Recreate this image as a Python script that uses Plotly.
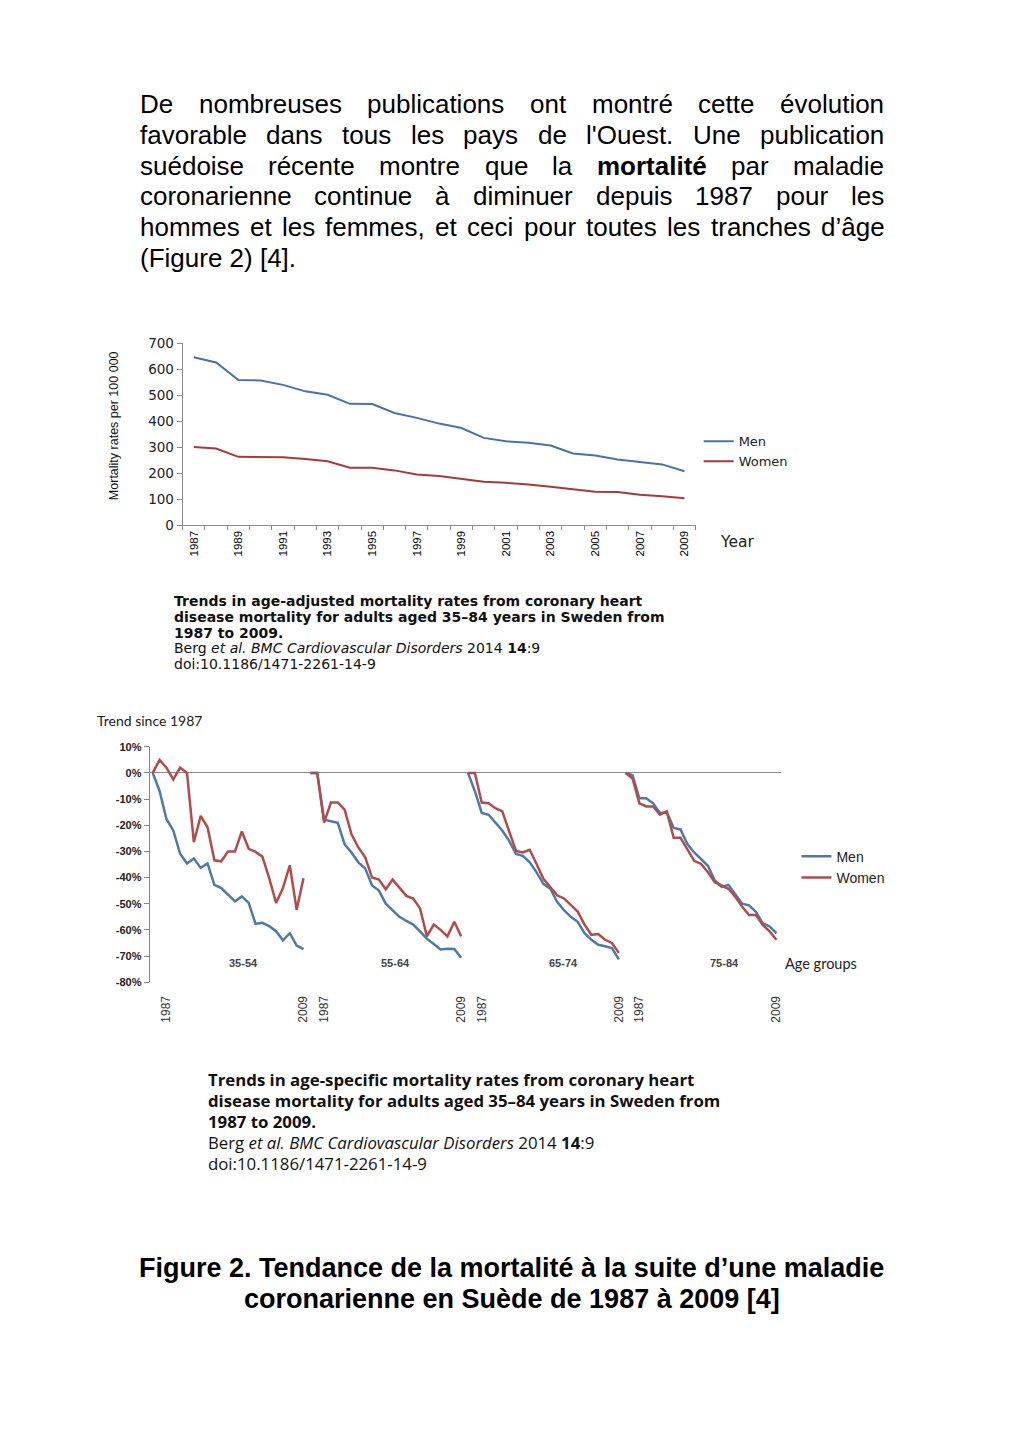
import plotly.graph_objects as go

W, H = 1024, 1454

# ---------------- data ----------------
years = list(range(1987, 2010))
men_rate = [646, 626, 559, 557, 540, 515, 502, 467, 466, 432, 413, 391, 374,
            336, 323, 317, 307, 276, 268, 253, 243, 234, 208]
women_rate = [301, 295, 263, 263, 262, 255, 246, 221, 221, 211, 195, 189, 179,
              167, 163, 157, 148, 138, 129, 128, 117, 112, 104]

age_groups = ["35-54", "55-64", "65-74", "75-84"]
men_35_54 = [0, -6.9, -17.6, -22, -30.9, -34.6, -32.7, -36.3, -34.6, -42.8, -44, -46.6,
             -49.1, -47.2, -49.7, -57.7, -57.3, -58.6, -60.5, -64, -61.3, -66, -67.4]
women_35_54 = [0, 5, 2, -2.5, 2, 0, -26.5, -16.4, -20.8, -33.4, -33.8, -30, -30, -22.4,
               -29, -30.2, -32, -40.3, -49.7, -44, -35.3, -52.3, -40.3]
men_55_64 = [0, 0, -17.9, -18.5, -19.1, -27.3, -30.4, -34.2, -36.5, -43, -45, -50, -52.5,
             -55, -56.6, -58, -60.6, -63.4, -65.4, -67.5, -67.2, -67.3, -70.7]
women_55_64 = [0, 0, -19, -11.3, -11.3, -14, -23.5, -28.5, -32.3, -40, -40.8, -44.5, -40.8,
               -44, -47, -48, -51.8, -62.5, -58, -60, -62.5, -56.9, -62.5]
men_65_74 = [0, -7, -15.3, -16, -19, -22, -26, -31, -31.7, -34.2, -38, -42.4, -44.3, -49.3,
             -52.5, -55, -56.9, -61.3, -63.8, -65.7, -66.3, -67, -71.3]
women_65_74 = [0, 0, -11.3, -11.6, -13.5, -14.7, -22.3, -29.8, -30.4, -29.4, -34.8, -40.5,
               -43.6, -46.8, -48, -50.6, -53, -58, -61.9, -61.6, -63.8, -65, -68.8]
men_75_84 = [0, -0.9, -9.7, -9.7, -11.6, -15.3, -15.1, -21, -21.6, -27.2, -30.4, -32.9,
             -35.5, -41.1, -43.6, -42.8, -46.2, -50, -50.6, -53.1, -57.5, -58.7, -61.3]
women_75_84 = [0, -2.1, -11.6, -12.8, -12.8, -16, -14.7, -24.8, -24.8, -29.2, -33.6, -34.8,
               -38, -41.8, -43, -44.3, -47.4, -51.2, -54.3, -54.3, -58.1, -60.6, -63.8]

trend_ticks = [10, 0, -10, -20, -30, -40, -50, -60, -70, -80]
trend_tick_text = ["10%", "0%", "-10%", "-20%", "-30%", "-40%", "-50%", "-60%", "-70%", "-80%"]

# ---------------- helpers ----------------
def px(x):
    return x / W


def py(y):
    return 1 - y / H


annotations = []


def ann(text, x, y, size, family="Liberation Sans", color="black", xanchor="left",
        yanchor="middle", angle=0, align="left"):
    annotations.append(dict(text=text, x=px(x), y=py(y), xref="paper", yref="paper",
                            showarrow=False, xanchor=xanchor, yanchor=yanchor,
                            textangle=angle, align=align, borderpad=0,
                            font=dict(size=size, family=family, color=color)))


# Arial / Liberation Sans advance widths (per 1000 em)
AR = {' ': 278, "'": 191, '\u2019': 222, '(': 333, ')': 333, ',': 278, '.': 278,
      '[': 278, ']': 278, '-': 333, ':': 278, '/': 278}
for c in '0123456789':
    AR[c] = 556
AR.update(dict(A=667, B=667, C=722, D=722, E=667, F=611, G=778, H=722, I=278, J=500, K=667,
               L=556, M=833, N=722, O=778, P=667, Q=778, R=722, S=667, T=611, U=722, V=667,
               W=944, X=667, Y=667, Z=611))
AR.update(dict(a=556, b=556, c=500, d=556, e=556, f=278, g=556, h=556, i=222, j=222, k=500,
               l=222, m=833, n=556, o=556, p=556, q=556, r=333, s=500, t=278, u=556, v=500,
               w=722, x=500, y=500, z=500))
for c in 'éèàâ':
    AR[c] = 556
ARB = dict(AR)
ARB.update(dict(m=889, o=611, r=389, t=333, a=556, l=278, i=278, n=611, d=611, u=611))


def tw(s, size, bold=False):
    tab = ARB if bold else AR
    return sum(tab.get(c, 556) for c in s) / 1000.0 * size


# ---------------- paragraph (justified) ----------------
P_SIZE = 26
P_LEFT, P_RIGHT = 139, 885
para_lines = [
    ["De", "nombreuses", "publications", "ont", "montré", "cette", "évolution"],
    ["favorable", "dans", "tous", "les", "pays", "de", "l'Ouest.", "Une", "publication"],
    ["suédoise", "récente", "montre", "que", "la", "*mortalité", "par", "maladie"],
    ["coronarienne", "continue", "à", "diminuer", "depuis", "1987", "pour", "les"],
    ["hommes", "et", "les", "femmes,", "et", "ceci", "pour", "toutes", "les", "tranches",
     "d\u2019âge"],
]
baseline0, lstep = 106.5, 31
for li, words in enumerate(para_lines):
    widths = [tw(w.lstrip('*'), P_SIZE, w.startswith('*')) for w in words]
    gap = (P_RIGHT - P_LEFT - sum(widths)) / (len(words) - 1)
    x = P_LEFT
    yc = baseline0 + li * lstep - 0.35 * P_SIZE
    for w, wd in zip(words, widths):
        t = "<b>" + w[1:] + "</b>" if w.startswith('*') else w
        ann(t, x, yc, P_SIZE)
        x += wd + gap
ann("(Figure 2) [4].", P_LEFT, baseline0 + 5 * lstep - 0.35 * P_SIZE, P_SIZE)

# ---------------- captions ----------------
cap1 = ["<b>Trends in age-adjusted mortality rates from coronary heart</b>",
        "<b>disease mortality for adults aged 35\u201384 years in Sweden from</b>",
        "<b>1987 to 2009.</b>",
        "Berg <i>et al. BMC Cardiovascular Disorders</i> 2014 <b>14</b>:9",
        "doi:10.1186/1471-2261-14-9"]
for i, t in enumerate(cap1):
    ann(t, 173, 599.5 + i * 16, 14, family="DejaVu Sans", color="#111")

cap2 = ["<b>Trends in age-specific mortality rates from coronary heart</b>",
        "<b>disease mortality for adults aged 35\u201384 years in Sweden from</b>",
        "<b>1987 to 2009.</b>",
        "Berg <i>et al. BMC Cardiovascular Disorders</i> 2014 <b>14</b>:9",
        "doi:10.1186/1471-2261-14-9"]
for i, t in enumerate(cap2):
    ann(t, 207, 1083 + i * 21.3, 16.8, family="Open Sans", color="#111")

ann("<b>Figure 2. Tendance de la mortalité à la suite d\u2019une maladie</b>", 513, 1274, 27,
    xanchor="center", align="center")
ann("<b>coronarienne en Suède de 1987 à 2009 [4]</b>", 513, 1305, 27,
    xanchor="center", align="center")

# ---------------- top chart ----------------
BLUE1, RED1 = "#4a70b0", "#a8393a"
fig = go.Figure()
fig.add_trace(go.Scatter(x=years, y=men_rate, mode="lines", name="Men",
                         line=dict(color=BLUE1, width=2), xaxis="x", yaxis="y",
                         legend="legend"))
fig.add_trace(go.Scatter(x=years, y=women_rate, mode="lines", name="Women",
                         line=dict(color=RED1, width=2), xaxis="x", yaxis="y",
                         legend="legend"))

ann("Mortality rates per 100 000", 115, 422, 12.5, angle=-90, xanchor="center",
    color="#111")
ann("Year", 738, 540, 15.5, family="DejaVu Sans", xanchor="center", color="#222")

# ---------------- bottom chart ----------------
BLUE2, RED2 = "#4d7aa6", "#b24c4a"
men_groups = [men_35_54, men_55_64, men_65_74, men_75_84]
women_groups = [women_35_54, women_55_64, women_65_74, women_75_84]
n = len(years)


def concat(groups):
    xs, ys = [], []
    for p, g in enumerate(groups):
        xs += [p * n + i for i in range(n)] + [None]
        ys += list(g) + [None]
    return xs, ys


mx, my = concat(men_groups)
wx, wy = concat(women_groups)
fig.add_trace(go.Scatter(x=mx, y=my, mode="lines", name="Men", connectgaps=False,
                         line=dict(color=BLUE2, width=2.5), xaxis="x2", yaxis="y2",
                         legend="legend2"))
fig.add_trace(go.Scatter(x=wx, y=wy, mode="lines", name="Women", connectgaps=False,
                         line=dict(color=RED2, width=2.5), xaxis="x2", yaxis="y2",
                         legend="legend2"))

LABEL_SHIFT = 2
tickvals2, ticktext2 = [], []
for p in range(len(age_groups)):
    tickvals2 += [p * n + LABEL_SHIFT, p * n + n - 1]
    ticktext2 += [str(years[0]), str(years[-1])]

ann("Trend since 1987", 96, 720, 14, family="Lato", color="#222")
for g, xc in zip(age_groups, [244, 396, 565, 726]):
    ann("<b>" + g + "</b>", xc, 966, 11, xanchor="center", color="#444")
ann("Age groups", 786, 966, 14.5, family="Lato", color="#222")

fig.update_layout(
    width=W, height=H, autosize=False,
    margin=dict(l=0, r=0, t=0, b=0),
    paper_bgcolor="white", plot_bgcolor="white",
    xaxis=dict(domain=[px(183), px(697)], range=[1986.5, 2009.5],
               tickvals=[y for y in years if y % 2 == 1], ticks="", tickangle=-90,
               showline=True, linecolor="#8c8c8c", linewidth=1, showgrid=False,
               zeroline=False, tickfont=dict(size=11.5, family="Liberation Sans", color="#000"),
               minor=dict(tick0=1986.5, dtick=1, ticks="outside", ticklen=4,
                          tickcolor="#8c8c8c", showgrid=False)),
    yaxis=dict(domain=[py(523), py(339)], range=[0, 700], dtick=100, ticks="outside",
               ticklen=5, tickcolor="#8c8c8c", showline=True, linecolor="#8c8c8c",
               showgrid=False, zeroline=False,
               tickfont=dict(size=13.5, family="DejaVu Sans", color="#222")),
    xaxis2=dict(domain=[px(150), px(783)], range=[-0.44, 91.73],
                tickvals=tickvals2, ticktext=ticktext2, tickangle=-90, ticks="outside",
                ticklen=8, tickcolor="rgba(0,0,0,0)",
                showline=False, showgrid=False, zeroline=False,
                tickfont=dict(size=12, family="Liberation Sans", color="#333"),
                anchor="y2"),
    yaxis2=dict(domain=[py(985), py(747)], range=[-80, 10], tickvals=trend_ticks,
                ticktext=trend_tick_text, ticks="outside", ticklen=5, tickcolor="#868686",
                showline=True, linecolor="#868686", showgrid=False,
                zeroline=True, zerolinecolor="#8a8a8a", zerolinewidth=1,
                tickfont=dict(size=11, family="Liberation Sans", color="#222", weight="bold"),
                anchor="x2"),
    legend=dict(x=px(700), y=py(423), xanchor="left", yanchor="top",
                bgcolor="rgba(0,0,0,0)", font=dict(size=13, family="DejaVu Sans", color="#222"),
                tracegroupgap=0),
    legend2=dict(x=px(798), y=py(842), xanchor="left", yanchor="top",
                 bgcolor="rgba(0,0,0,0)",
                 font=dict(size=14, family="Liberation Sans", color="#222"),
                 tracegroupgap=0),
    showlegend=True,
    annotations=annotations,
)

fig.write_html("out.html", post_script="document.body.style.margin='0';",
               config={"displayModeBar": False})
